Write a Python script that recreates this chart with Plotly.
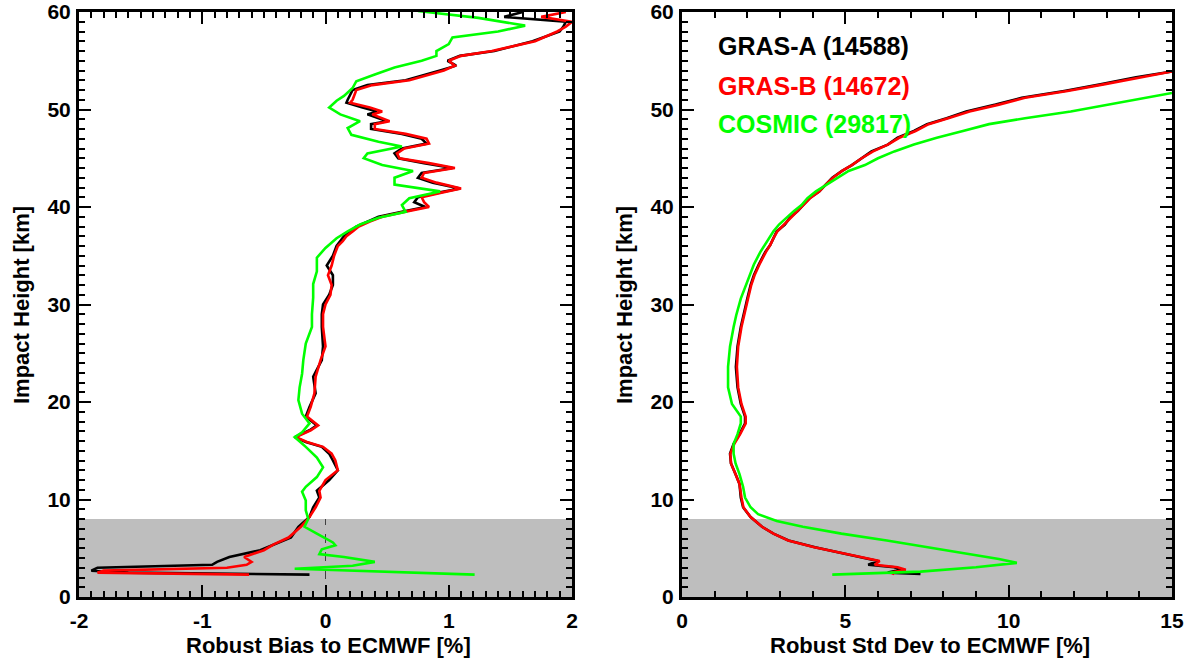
import plotly.graph_objects as go

# ---------------- data ----------------
# Left panel: Robust bias to ECMWF [%] vs impact height [km]
h_bias_gras = [
    60.0, 59.5, 59.0, 58.5, 58.0, 57.0, 56.0, 55.5, 55.0, 54.5,
    54.0, 53.0, 52.5, 52.0, 51.0, 50.7, 50.2, 49.8, 49.5, 48.8,
    48.5, 48.0, 47.5, 47.0, 46.5, 46.0, 45.5, 45.0, 44.5, 44.0,
    43.5, 43.0, 42.5, 41.9, 41.5, 41.0, 40.5, 40.0, 39.5, 39.0,
    38.5, 38.0, 37.5, 37.0, 36.5, 36.0, 35.0, 34.0, 33.0, 32.0,
    31.0, 30.0, 29.0, 27.7, 25.7, 24.3, 22.6, 20.9, 19.5, 18.5,
    17.6, 17.1, 16.4, 15.9, 15.4, 14.7, 14.0, 13.0, 12.0, 10.9,
    10.2, 9.2, 8.2, 7.2, 6.1, 5.4, 4.8, 4.1, 3.6, 3.3,
    3.0, 2.7, 2.5, 2.3]
bias_gras_a = [
    1.60, 1.45, 1.95, 1.93, 1.90, 1.68, 1.37, 1.09, 0.99, 1.06,
    0.93, 0.65, 0.34, 0.22, 0.18, 0.17, 0.30, 0.42, 0.34, 0.50,
    0.37, 0.37, 0.62, 0.78, 0.82, 0.62, 0.56, 0.59, 0.80, 1.03,
    0.78, 0.75, 0.87, 1.09, 0.93, 0.75, 0.72, 0.81, 0.62, 0.43,
    0.34, 0.25, 0.20, 0.15, 0.12, 0.09, 0.06, 0.01, 0.06, 0.06,
    0.03, -0.02, -0.03, -0.03, -0.02, -0.03, -0.10, -0.08, -0.13, -0.16,
    -0.07, -0.13, -0.25, -0.16, -0.03, 0.03, 0.06, 0.10, 0.03, -0.07,
    -0.05, -0.10, -0.13, -0.22, -0.28, -0.41, -0.53, -0.78, -0.88, -0.92,
    -1.85, -1.90, -1.60, -0.13]
bias_gras_b = [
    1.95, 1.75, 2.00, 1.95, 1.88, 1.70, 1.35, 1.10, 1.00, 1.05,
    0.96, 0.68, 0.38, 0.25, 0.22, 0.20, 0.36, 0.46, 0.38, 0.52,
    0.40, 0.40, 0.65, 0.82, 0.84, 0.64, 0.58, 0.60, 0.84, 1.05,
    0.80, 0.78, 0.90, 1.10, 0.95, 0.78, 0.80, 0.84, 0.64, 0.46,
    0.36, 0.27, 0.22, 0.17, 0.14, 0.10, 0.07, 0.05, 0.02, 0.05,
    0.04, 0.00, -0.02, -0.02, 0.00, -0.04, -0.08, -0.09, -0.12, -0.15,
    -0.06, -0.12, -0.24, -0.15, -0.02, 0.05, 0.08, 0.10, 0.00, -0.05,
    -0.04, -0.08, -0.13, -0.20, -0.30, -0.42, -0.50, -0.66, -0.60, -0.64,
    -0.80, -1.80, -1.85, -0.62]

h_bias_cosmic = [
    60.1, 59.4, 58.6, 58.0, 57.4, 56.7, 56.0, 55.5, 55.0, 54.3,
    53.6, 52.9, 52.2, 51.4, 50.9, 50.2, 49.5, 48.8, 48.1, 47.4,
    46.7, 46.2, 45.5, 45.0, 44.3, 43.7, 43.0, 42.3, 41.6, 40.9,
    40.2, 39.5, 38.9, 38.2, 37.5, 36.8, 35.8, 34.8, 33.4, 32.1,
    30.7, 29.0, 27.7, 26.0, 24.3, 22.9, 21.5, 20.2, 18.8, 17.8,
    16.9, 16.4, 15.4, 14.3, 13.3, 12.3, 11.3, 10.8, 9.9, 8.9,
    8.0, 7.2, 6.5, 5.6, 5.3, 4.9, 4.4, 4.1, 3.6, 3.2,
    2.9, 2.3]
bias_cosmic = [
    0.75, 1.24, 1.62, 1.40, 1.03, 1.00, 0.90, 0.90, 0.78, 0.56,
    0.40, 0.25, 0.22, 0.15, 0.09, 0.03, 0.12, 0.28, 0.18, 0.21,
    0.43, 0.62, 0.34, 0.31, 0.46, 0.71, 0.56, 0.56, 0.93, 0.68,
    0.62, 0.65, 0.43, 0.28, 0.18, 0.09, 0.00, -0.07, -0.07, -0.10,
    -0.10, -0.11, -0.11, -0.16, -0.18, -0.19, -0.21, -0.22, -0.19, -0.13,
    -0.19, -0.25, -0.16, -0.07, -0.02, -0.07, -0.16, -0.19, -0.16, -0.16,
    -0.14, -0.17, -0.07, 0.06, 0.08, -0.03, -0.05, 0.15, 0.40, 0.22,
    -0.25, 1.21]

# Right panel: Robust std dev to ECMWF [%] vs impact height [km]
h_std_gras = [
    53.9, 53.3, 52.6, 51.9, 51.2, 50.5, 49.8, 49.1, 48.5, 47.8,
    47.1, 46.4, 45.7, 45.0, 44.3, 43.7, 43.0, 42.3, 41.6, 40.9,
    40.2, 39.6, 38.9, 38.2, 37.5, 36.8, 36.1, 35.4, 34.8, 34.1,
    33.0, 32.0, 30.6, 29.3, 27.7, 25.7, 23.6, 21.5, 19.8, 18.5,
    17.8, 16.7, 15.7, 14.7, 13.7, 12.6, 11.6, 10.2, 9.2, 8.2,
    7.2, 6.5, 5.8, 5.1, 4.6, 4.1, 3.7, 3.3, 3.05, 2.8,
    2.5, 2.36]
std_gras_a = [
    15.0, 13.9, 12.85, 11.7, 10.4, 9.6, 8.7, 8.1, 7.5, 7.1,
    6.6, 6.3, 5.8, 5.5, 5.2, 4.9, 4.6, 4.4, 4.2, 3.9,
    3.7, 3.55, 3.3, 3.15, 2.9, 2.8, 2.7, 2.55, 2.45, 2.35,
    2.2, 2.1, 2.0, 1.9, 1.8, 1.7, 1.65, 1.7, 1.8, 1.93,
    1.93, 1.76, 1.58, 1.47, 1.5, 1.64, 1.76, 1.8, 1.87, 2.1,
    2.45, 2.8, 3.26, 4.07, 4.76, 5.46, 6.0, 5.7, 6.5, 6.7,
    6.3, 7.3]
std_gras_b = [
    15.0, 14.0, 12.95, 11.8, 10.5, 9.7, 8.8, 8.15, 7.55, 7.15,
    6.65, 6.3, 5.85, 5.5, 5.2, 4.9, 4.62, 4.4, 4.2, 3.92,
    3.72, 3.55, 3.32, 3.15, 2.92, 2.8, 2.7, 2.57, 2.47, 2.37,
    2.22, 2.12, 2.02, 1.92, 1.82, 1.72, 1.68, 1.72, 1.82, 1.95,
    1.95, 1.78, 1.6, 1.48, 1.5, 1.64, 1.76, 1.82, 1.88, 2.1,
    2.45, 2.8, 3.25, 4.05, 4.75, 5.45, 6.05, 5.9, 6.6, 6.85,
    6.4, 6.5]

h_std_cosmic = [
    51.7, 51.2, 50.5, 49.8, 49.1, 48.5, 47.8, 47.1, 46.4, 45.7,
    45.0, 44.3, 43.7, 43.0, 42.3, 41.6, 40.9, 40.2, 39.6, 38.9,
    38.2, 37.5, 36.5, 35.4, 34.1, 32.4, 30.6, 28.9, 27.7, 25.7,
    23.6, 21.5, 19.8, 18.5, 17.8, 16.7, 15.7, 14.7, 13.7, 12.6,
    11.3, 10.2, 9.2, 8.5, 7.8, 7.2, 6.5, 5.8, 5.1, 4.4,
    3.9, 3.5, 3.05, 2.6, 2.3]
std_cosmic = [
    15.0, 14.2, 13.1, 11.9, 10.5, 9.4, 8.6, 7.8, 7.1, 6.5,
    6.0, 5.6, 5.1, 4.76, 4.4, 4.1, 3.84, 3.66, 3.43, 3.2,
    2.97, 2.8, 2.62, 2.4, 2.2, 2.0, 1.8, 1.66, 1.58, 1.47,
    1.41, 1.41, 1.53, 1.8, 1.8, 1.7, 1.58, 1.58, 1.64, 1.76,
    1.87, 1.93, 2.1, 2.33, 2.9, 3.7, 4.88, 6.27, 7.54, 8.8,
    9.7, 10.25, 9.0, 7.3, 4.6]

series_names = ["GRAS-A (14588)", "GRAS-B (14672)", "COSMIC (29817)"]
series_colors = ["#000000", "#FF0000", "#00FF00"]

bias_ticks = [-2, -1, 0, 1, 2]
bias_ticktext = ["-2", "-1", "0", "1", "2"]
std_ticks = [0, 5, 10, 15]
std_ticktext = ["0", "5", "10", "15"]
height_ticks = [0, 10, 20, 30, 40, 50, 60]
height_ticktext = ["0", "10", "20", "30", "40", "50", "60"]
shade_top_km = 8

# ---------------- figure ----------------
W, H = 1192, 659
fig = go.Figure()

LW = 2.6
left = [(bias_gras_a, h_bias_gras), (bias_gras_b, h_bias_gras), (bias_cosmic, h_bias_cosmic)]
right = [(std_gras_a, h_std_gras), (std_gras_b, h_std_gras), (std_cosmic, h_std_cosmic)]
for (xv, hv), name, col in zip(left, series_names, series_colors):
    fig.add_trace(go.Scatter(x=xv, y=hv, mode="lines", name=name,
                             line=dict(color=col, width=LW), xaxis="x", yaxis="y",
                             showlegend=False))
for (xv, hv), name, col in zip(right, series_names, series_colors):
    fig.add_trace(go.Scatter(x=xv, y=hv, mode="lines", name=name,
                             line=dict(color=col, width=LW), xaxis="x2", yaxis="y2",
                             showlegend=False))

ydom = [1 - 597 / H, 1 - 12 / H]
FONT = "Liberation Sans"

def xaxis_common(domain, rng, tickvals, ticktext, minor_dtick, anchor):
    return dict(domain=domain, range=rng, tickvals=tickvals, ticktext=ticktext,
                showline=True, linewidth=3, linecolor="black", mirror="allticks",
                ticks="inside", ticklen=12, tickwidth=2, tickcolor="black",
                minor=dict(ticks="inside", ticklen=6, tickwidth=1.5, tickcolor="black",
                           dtick=minor_dtick, tick0=0),
                showgrid=False, zeroline=False, anchor=anchor, automargin=False,
                tickfont=dict(family=FONT, size=21, color="black", weight="bold"),
                ticklabelstandoff=3, fixedrange=True)

def yaxis_common(anchor):
    return dict(domain=ydom, range=[0, 60], tickvals=height_ticks, ticktext=height_ticktext,
                showline=True, linewidth=3, linecolor="black", mirror="allticks",
                ticks="inside", ticklen=12, tickwidth=2, tickcolor="black",
                minor=dict(ticks="inside", ticklen=6, tickwidth=1.5, tickcolor="black",
                           dtick=1, tick0=0),
                showgrid=False, zeroline=False, anchor=anchor, automargin=False,
                tickfont=dict(family=FONT, size=21, color="black", weight="bold"),
                ticklabelstandoff=1, fixedrange=True)

fig.update_layout(
    width=W, height=H,
    margin=dict(l=0, r=0, t=0, b=0, autoexpand=False),
    paper_bgcolor="white", plot_bgcolor="white",
    font=dict(family=FONT, size=21, color="black", weight="bold"),
    xaxis=xaxis_common([79 / W, 572 / W], [-2, 2], bias_ticks, bias_ticktext, 0.1, "y"),
    yaxis=yaxis_common("x"),
    xaxis2=xaxis_common([682 / W, 1172 / W], [0, 15], std_ticks, std_ticktext, 1, "y2"),
    yaxis2=yaxis_common("x2"),
    showlegend=False,
)

# shaded lower-troposphere region
for xr, yr in [("x domain", "y"), ("x2 domain", "y2")]:
    fig.add_shape(type="rect", xref=xr, yref=yr, x0=0, x1=1, y0=0, y1=shade_top_km,
                  fillcolor="#BEBEBE", line=dict(width=0), layer="below")
# zero line in bias panel (shaded part)
fig.add_shape(type="line", xref="x", yref="y", x0=0, x1=0, y0=0, y1=shade_top_km,
              line=dict(color="#404040", width=1, dash="dash"), layer="below")

# axis titles
ann = []
ann.append(dict(text="Robust Bias to ECMWF [%]", x=328 / W, y=1 - 645 / H))
ann.append(dict(text="Robust Std Dev to ECMWF [%]", x=930 / W, y=1 - 645 / H))
for a in ann:
    a.update(xref="paper", yref="paper", showarrow=False, xanchor="center", yanchor="middle",
             font=dict(family=FONT, size=22, color="black", weight="bold"))
for xc in (22, 625):
    ann.append(dict(text="Impact Height [km]", x=xc / W, y=1 - 305 / H, textangle=-90,
                    xref="paper", yref="paper", showarrow=False, xanchor="center",
                    yanchor="middle", font=dict(family=FONT, size=22, color="black", weight="bold")))
# legend as coloured text
for i, (name, col) in enumerate(zip(series_names, series_colors)):
    ann.append(dict(text=name, x=716 / W, y=1 - [46, 86, 124][i] / H, xref="paper", yref="paper",
                    showarrow=False, xanchor="left", yanchor="middle",
                    font=dict(family=FONT, size=25, color=col, weight="bold")))
fig.update_layout(annotations=ann)

fig.write_html("out.html")
